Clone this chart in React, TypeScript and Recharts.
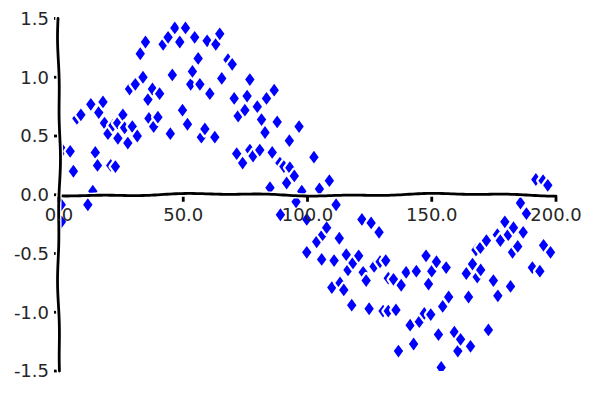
import React from 'react';
import { ScatterChart, Scatter, XAxis, YAxis, ReferenceLine, ReferenceDot } from 'recharts';

const xValues = [
  0.9, 1.0, 1.4, 4.5, 5.8, 7.2, 8.8, 11.6, 12.8, 13.6, 14.6, 15.5, 16.0, 17.7, 18.3, 19.7, 20.8, 21.7, 22.7, 23.6,
  23.7, 25.7, 26.4, 27.7, 28.4, 29.5, 30.7, 31.5, 32.7, 33.8, 34.8, 35.8, 36.2, 37.6, 38.1, 39.8, 40.5, 41.9, 43.9, 44.8,
  45.6, 46.6, 48.6, 49.7, 50.9, 51.7, 53.0, 53.7, 54.6, 56.0, 56.7, 57.3, 58.7, 59.6, 60.7, 62.7, 63.1, 64.7, 65.5, 68.0,
  69.7, 70.5, 71.5, 72.1, 73.9, 74.8, 75.7, 76.8, 76.8, 78.1, 79.8, 80.8, 81.5, 82.9, 83.5, 84.9, 85.8, 86.6, 87.8, 88.9,
  89.1, 90.5, 91.6, 92.7, 92.9, 94.7, 95.4, 96.6, 97.7, 99.7, 99.7, 102.6, 103.7, 104.8, 105.7, 106.1, 107.7, 108.8, 109.8, 110.7,
  111.5, 112.8, 113.1, 114.6, 115.6, 116.3, 117.8, 118.3, 120.6, 121.9, 122.4, 123.6, 124.8, 125.6, 126.8, 128.8, 129.2, 130.4, 131.5, 132.5,
  132.5, 134.6, 135.6, 136.6, 137.7, 139.7, 141.3, 142.7, 143.8, 145.0, 147.0, 147.7, 148.7, 149.6, 150.0, 151.9, 152.7, 153.8, 154.4, 155.8,
  156.8, 159.1, 160.5, 161.6, 163.9, 164.8, 165.6, 166.4, 167.8, 168.3, 169.6, 169.7, 172.0, 172.8, 174.8, 176.4, 176.6, 177.6, 179.4, 180.8,
  181.7, 182.5, 182.9, 184.6, 185.7, 186.8, 188.1, 190.5, 191.9, 193.5, 194.8, 195.0, 196.7, 197.8,
];

const yValues = [
  -0.085, -0.23, 0.38, 0.37, 0.2, 0.65, 0.68, -0.085, 0.77, 0.03, 0.36, 0.25, 0.7, 0.79, 0.61, 0.52, 0.25, 0.59, 0.24, 0.61,
  0.48, 0.68, 0.57, 0.44, 0.9, 0.58, 0.94, 0.5, 1.2, 1.0, 1.3, 0.81, 0.65, 0.9, 0.58, 0.66, 0.86, 1.28, 1.34, 0.52,
  1.02, 1.42, 1.3, 0.72, 1.42, 0.6, 0.94, 1.05, 1.34, 1.16, 0.94, 0.49, 0.56, 1.31, 0.86, 0.49, 1.28, 1.37, 0.99, 1.15,
  1.11, 0.82, 0.35, 0.67, 0.27, 0.72, 0.84, 0.98, 0.38, 0.33, 0.75, 0.38, 0.64, 0.53, 0.82, 0.06, 0.36, 0.89, 0.62, 0.27,
  -0.17, 0.24, 0.1, 0.46, 0.23, 0.16, -0.06, 0.58, 0.03, -0.21, -0.49, 0.32, -0.4, 0.05, -0.55, -0.34, -0.28, 0.12, -0.79, -0.56,
  -0.085, -0.37, -0.75, -0.81, -0.51, -0.64, -0.94, -0.58, -0.52, -0.21, -0.66, -0.73, -0.97, -0.24, -0.61, -0.32, -0.57, -0.99, -0.56, -0.71,
  -0.99, -0.72, -0.98, -1.33, -0.77, -0.66, -1.11, -1.27, -0.65, -1.08, -1.01, -0.52, -0.76, -1.02, -0.65, -0.57, -1.19, -1.47, -0.95, -0.62,
  -0.87, -1.17, -1.33, -1.23, -0.67, -0.87, -1.29, -0.59, -0.47, -0.7, -0.45, -0.64, -0.39, -1.15, -0.73, -0.34, -0.86, -0.39, -0.23, -0.34,
  -0.78, -0.49, -0.28, -0.44, -0.07, -0.32, -0.16, -0.62, 0.13, -0.65, 0.12, -0.43, 0.08, -0.49,
];

const xTicks = [0, 50, 100, 150, 200];
const yTicks = [-1.5, -1.0, -0.5, 0.0, 0.5, 1.0, 1.5];

const points = xValues.map((x, i) => ({ x, y: yValues[i] }));

const FONT = '"DejaVu Sans", sans-serif';
const TEXT = '#262626';

const Diamond = (props: any) => {
  const { cx, cy } = props;
  if (cx == null || cy == null) return null;
  const w = 4.7;
  const h = 6.4;
  const d = `M${cx},${cy - h} L${cx + w},${cy} L${cx},${cy + h} L${cx - w},${cy} Z`;
  return (
    <g>
      <path d={d} fill="#ffffff" stroke="#ffffff" strokeWidth={4.5} strokeLinejoin="round" />
      <path d={d} fill="#0000ff" stroke="none" />
    </g>
  );
};

const wavyPath = (x1: number, y1: number, x2: number, y2: number, phase: number) => {
  const len = Math.hypot(x2 - x1, y2 - y1);
  const nx = -(y2 - y1) / len;
  const ny = (x2 - x1) / len;
  const steps = Math.max(2, Math.round(len / 3));
  let d = '';
  for (let i = 0; i <= steps; i++) {
    const t = i / steps;
    const s = t * len;
    const off = 1.0 * Math.sin(s / 38 + phase) + 0.5 * Math.sin(s / 13 + phase * 2);
    const px = x1 + (x2 - x1) * t + nx * off;
    const py = y1 + (y2 - y1) * t + ny * off;
    d += `${i === 0 ? 'M' : 'L'}${px.toFixed(2)},${py.toFixed(2)}`;
  }
  return d;
};

const WavyLine = (phase: number) => (props: any) => {
  const { x1, y1, x2, y2 } = props;
  if ([x1, y1, x2, y2].some((v) => v == null || isNaN(v))) return null;
  const d = wavyPath(x1, y1, x2, y2, phase);
  return (
    <g>
      <path d={d} fill="none" stroke="#ffffff" strokeWidth={5.5} strokeLinecap="round" />
      <path d={d} fill="none" stroke="#000000" strokeWidth={2.8} strokeLinecap="round" />
    </g>
  );
};

const XTick = (value: number) => (props: any) => {
  const { cx, cy } = props;
  if (cx == null || cy == null) return null;
  return (
    <g>
      <line x1={cx} y1={cy + 2} x2={cx} y2={cy + 7} stroke="#000" strokeWidth={2.8} />
      <text x={cx} y={cy + 26} textAnchor="middle" fontFamily={FONT} fontSize={18} fill={TEXT}>
        {value.toFixed(1)}
      </text>
    </g>
  );
};

export default function App() {
  return (
    <div style={{ position: 'absolute', left: 0, top: 0, width: 591, height: 412, background: '#fff' }}>
      <ScatterChart width={591} height={412} margin={{ top: 18.5, right: 35, bottom: 41, left: 0 }}>
        <XAxis type="number" dataKey="x" domain={[0, 200]} ticks={xTicks} hide allowDataOverflow />
        <YAxis
          type="number"
          dataKey="y"
          domain={[-1.5, 1.5]}
          ticks={yTicks}
          interval={0}
          allowDataOverflow
          width={59}
          axisLine={false}
          tickSize={5}
          tickMargin={5}
          tickLine={{ stroke: '#000', strokeWidth: 2.8 }}
          tickFormatter={(v: number) => v.toFixed(1)}
          tick={{ fontFamily: FONT, fontSize: 18, fill: TEXT }}
        />
        <Scatter data={points} shape={Diamond} isAnimationActive={false} zIndex={100} />
        <ReferenceLine y={0} ifOverflow="visible" shape={WavyLine(0.7)} zIndex={2000} />
        <ReferenceLine x={0} ifOverflow="visible" shape={WavyLine(2.1)} zIndex={2000} />
        {xTicks.map((v) => (
          <ReferenceDot key={v} x={v} y={0} r={0} ifOverflow="visible" shape={XTick(v)} zIndex={2100} />
        ))}
      </ScatterChart>
    </div>
  );
}
